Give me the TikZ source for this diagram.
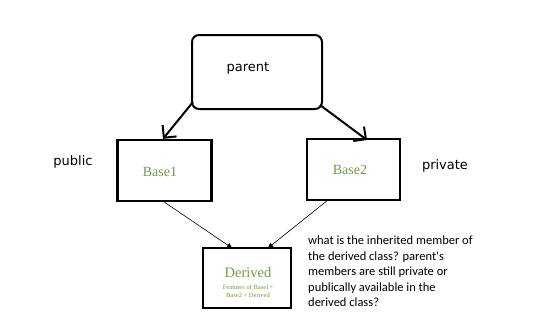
\documentclass[tikz,border=0pt]{standalone}
\usepackage{fontspec}
\setmainfont{Liberation Serif}
\newfontfamily\dejavu{DejaVu Sans}
\newfontfamily\carlito{Carlito}
\usetikzlibrary{arrows.meta}
\definecolor{leaf}{HTML}{6E9B45}
\tikzset{
  box/.style={draw, line width=2.4pt, minimum width=94pt, minimum height=61pt, inner sep=0pt},
  bigarrow/.style={line width=2pt, -{Straight Barb[length=9pt,width=18pt,line width=2pt]}},
  thinarrow/.style={line width=0.6pt, -{Triangle[length=5pt,width=5pt]}},
  lbl/.style={font=\dejavu\fontsize{13}{15}\selectfont, inner sep=0pt}
}
\begin{document}
\begin{tikzpicture}[x=1pt,y=-1pt]
\useasboundingbox[fill=white] (0,0) rectangle (540,335);
\node[draw, line width=2pt, rounded corners=7pt, minimum width=130pt, minimum height=74pt] (parent) at (257,72) {};
\node[lbl] (ptext) at (248,68) {parent};
\node[box] (base1) at (164.5,170.5) {};
\node[font=\fontsize{14}{16}\selectfont, text=leaf] (b1t) at (160,172) {Base1};
\node[box, minimum width=93pt] (base2) at (353.5,169.5) {};
\node[font=\fontsize{14}{16}\selectfont, text=leaf] (b2t) at (350,170) {Base2};
\node[box, minimum width=88pt, minimum height=60pt] (derived) at (247,278) {};
\node[font=\fontsize{14.5}{16}\selectfont, text=leaf, inner sep=0pt] (dt) at (248,273) {Derived};
\node[font=\fontsize{6.5}{7.5}\selectfont, text=leaf, align=center, inner sep=0pt] (df) at (248,291) {Features of Base1+\\Base2 + Derived};
\node[lbl] (pub) at (73,162) {public};
\node[lbl] (priv) at (445,166) {private};
\node[font=\carlito\fontsize{12.5}{15.5}\selectfont, align=left, anchor=north west, inner sep=0pt] (q) at (308,236)
{what is the inherited member of\\the derived class? parent's\\members are still private or\\publically available in the\\derived class?};
\coordinate (p1) at (193,102);
\coordinate (p2) at (320,105);
\draw[bigarrow] (p1) -- (base1.north -| 163,0);
\draw[bigarrow] (p2) -- (367,140);
\draw[thinarrow] (base1.south) -- (232,248);
\draw[thinarrow] (328,200) -- (268,248);
\end{tikzpicture}
\end{document}
